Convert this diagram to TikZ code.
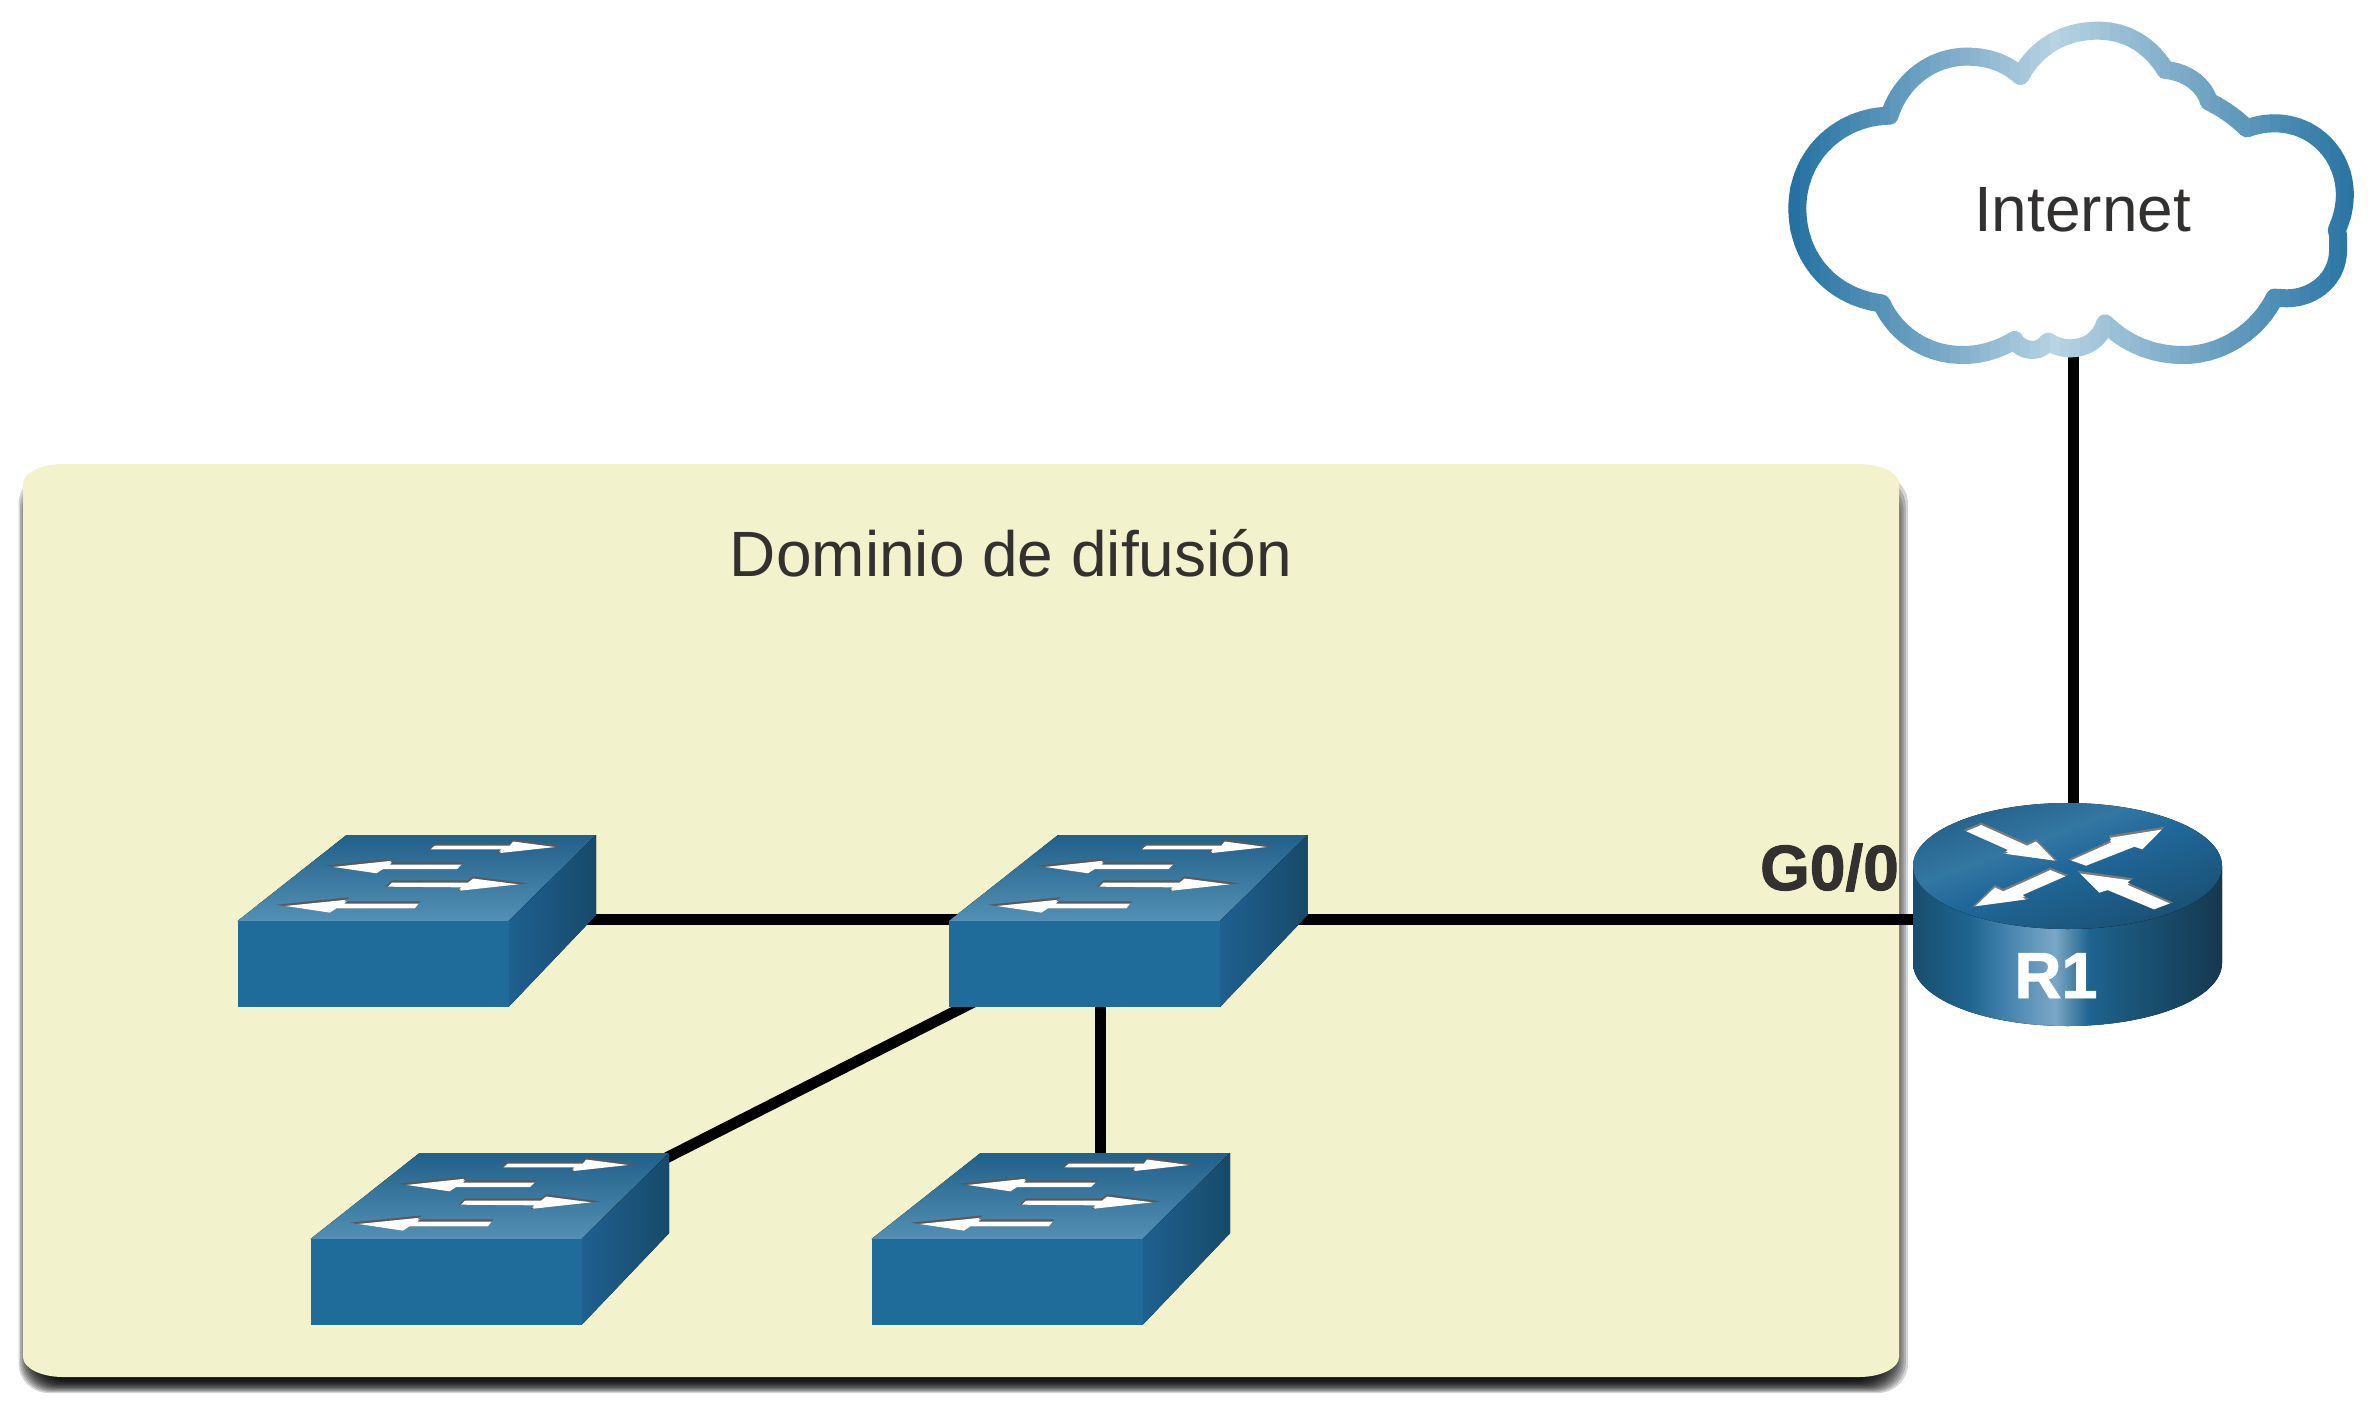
\documentclass[tikz,border=0pt]{standalone}
\usepackage{fontspec}
\setmainfont{Liberation Sans}
\newfontface\heavyface[FakeBold=1.5]{Liberation Sans Bold}
\definecolor{inktext}{HTML}{333030}
\definecolor{panelfill}{HTML}{F2F2CC}
\definecolor{cloudD}{HTML}{2371A1}
\definecolor{cloudL}{HTML}{B8D3E3}
\definecolor{swfront}{HTML}{1F6C9B}
\definecolor{swtopA}{HTML}{21608A}
\definecolor{swtopB}{HTML}{5490B5}
\definecolor{swsideA}{HTML}{1F6090}
\definecolor{swsideB}{HTML}{174A6A}
\definecolor{rsA}{HTML}{184E6E}
\definecolor{rsB}{HTML}{1E6490}
\definecolor{rsC}{HTML}{4080AB}
\definecolor{rsD}{HTML}{7BA7C7}
\definecolor{rsE}{HTML}{6A9AB9}
\definecolor{rsF}{HTML}{1A5578}
\definecolor{rsG}{HTML}{16384F}
\definecolor{rtA}{HTML}{25618A}
\definecolor{rtB}{HTML}{3377A3}
\definecolor{rtC}{HTML}{20689A}
\definecolor{rtD}{HTML}{1A4F72}
\pgfdeclarehorizontalshading{routerside}{100bp}{color(0bp)=(rsA);color(25bp)=(rsA);color(34bp)=(rsB);color(39.5bp)=(rsC);color(48bp)=(rsD);color(49bp)=(rsE);color(53.5bp)=(rsB);color(60bp)=(rsF);color(75bp)=(rsG);color(100bp)=(rsG)}
\pgfdeclareverticalshading{routertop}{100bp}{color(0bp)=(rtD);color(25bp)=(rtD);color(50bp)=(rtC);color(60bp)=(rtB);color(75bp)=(rtA);color(100bp)=(rtA)}
\tikzset{
  wire/.style={line width=11pt,black},
  device/.style={inner sep=0pt,minimum size=2pt},
  label/.style={inner sep=0pt,font=\fontsize{64}{64}\selectfont,text=inktext},
}
\newcommand\arrowglyph[3]{% grey, dy, polygon
  \fill[#1] #3 -- cycle;
  \begin{scope}
    \clip #3 -- cycle;
    \fill[white,yshift=-#2] #3 -- cycle;
  \end{scope}}
\newcommand\switchbox[2]{%
  \begin{scope}[shift={(#1,#2)}]
    \fill[top color=swtopA,bottom color=swtopB] (0,0) -- (109,-86) -- (358.7,-86) -- (271,0) -- cycle;
    \fill[left color=swsideA,right color=swsideB] (271,0) -- (358.7,-86) -- (358.7,-6) -- (271,86) -- cycle;
    \fill[swfront] (0,0) rectangle (271,86);
    \begin{scope}[shift={(-29.33,-111)},x=0.33333pt,y=-0.33333pt]
      \arrowglyph{black!65}{2.2}{(660,118) -- (680,100) -- (905,100) -- (915,88) -- (1068,108) -- (868,130) -- (880,118)}
      \arrowglyph{black!65}{2.2}{(350,167) -- (557,145) -- (545,157) -- (767,157) -- (747,177) -- (525,177) -- (505,190)}
      \arrowglyph{black!65}{2.2}{(532,230) -- (552,211) -- (780,211) -- (795,199) -- (958,220) -- (748,243) -- (760,232)}
      \arrowglyph{black!65}{2.2}{(205,284) -- (422,262) -- (408,274) -- (637,274) -- (620,295) -- (385,295) -- (365,308)}
    \end{scope}
  \end{scope}}
\def\cloudpath{(350,347) .. controls (375,250) and (450,170) .. (545,170) .. controls (600,170) and (645,190) .. (680,228) .. controls (720,140) and (790,92) .. (875,92) .. controls (950,92) and (1010,140) .. (1045,210) .. controls (1095,215) and (1140,250) .. (1155,305) .. controls (1190,325) and (1225,355) .. (1250,385) .. controls (1275,375) and (1295,370) .. (1320,370) .. controls (1420,370) and (1497,465) .. (1497,585) .. controls (1497,620) and (1490,655) .. (1477,690) .. controls (1482,710) and (1480,730) .. (1480,750) .. controls (1480,835) and (1420,895) .. (1350,895) -- (1320,893) .. controls (1280,990) and (1190,1065) .. (1090,1065) .. controls (1010,1065) and (945,1030) .. (893,970) .. controls (880,1020) and (845,1045) .. (805,1045) .. controls (785,1045) and (765,1037) .. (750,1025) .. controls (738,1042) and (725,1050) .. (710,1050) .. controls (692,1050) and (675,1040) .. (665,1020) .. controls (625,1050) and (580,1065) .. (535,1065) .. controls (440,1065) and (365,1000) .. (330,910) .. controls (200,890) and (118,770) .. (118,625) .. controls (118,470) and (220,350) .. (350,347) -- cycle}
\tikzset{cloudframe/.style={shift={(1750.5,0)},x=0.397pt,y=-0.33333pt}}
\begin{document}
\begin{tikzpicture}[x=1pt,y=-1pt]
\useasboundingbox (0,0) rectangle (2372,1410);
\fill[white] (0,0) rectangle (2372,1410);
% shadow of the panel
\foreach \i in {0,...,15}{
  \pgfmathsetmacro{\ls}{18.5+\i*1.6}
  \pgfmathsetmacro{\rs}{1908-\i*2.2}
  \pgfmathsetmacro{\ts}{474+\i*3}
  \pgfmathsetmacro{\bs}{1393-\i*1.1}
  \fill[black,opacity=0.17,rounded corners=30pt] (\ls,\ts) rectangle (\rs,\bs);
}
% panel
\fill[panelfill] (63,464) -- (1859,464) arc[start angle=90,end angle=0,x radius=40,y radius=-20] -- (1899,1357) arc[start angle=0,end angle=-90,x radius=40,y radius=-20] -- (63,1377) arc[start angle=270,end angle=180,x radius=40,y radius=-20] -- (23,484) arc[start angle=180,end angle=90,x radius=40,y radius=-20] -- cycle;
\node[label,anchor=base] (dom) at (1011,576.5) {Dominio de difusión};
% device anchors
\node[device] (sw1) at (400,919) {};
\node[device] (sw2) at (1100,919) {};
\node[device] (sw3) at (460,1280) {};
\node[device] (sw4) at (1020,1280) {};
\node[device] (R1) at (2067.5,919) {};
\coordinate (cloudfoot) at (2073.5,340);
\coordinate (routerhead) at (2073.5,850);
\coordinate (diagA) at (1080,948);
\coordinate (diagB) at (600,1191.5);
% connectors
\draw[wire] (sw1) -- (sw2);
\draw[wire] (sw2) -- (R1);
\draw[wire] (sw2) -- (sw2 |- sw4);
\draw[wire] (diagA) -- (diagB);
\draw[wire] (cloudfoot) -- (routerhead);
% switches
\switchbox{237.5}{921}
\switchbox{949}{921}
\switchbox{310.5}{1239}
\switchbox{871.5}{1239}
% router
\fill[shading=routerside] (1913,866) -- (1913,963) arc[start angle=180,end angle=360,x radius=154.5,y radius=-63] -- (2222,866) -- cycle;
\fill[shading=routertop,shading angle=20] (2067.5,866) ellipse[x radius=154.5,y radius=63];
\begin{scope}[shift={(1700,770)},x=0.3575pt,y=-0.33333pt]
  \arrowglyph{black!52}{2.4}{(737,180) -- (787,158) -- (915,220) -- (940,207) -- (1000,273) -- (845,250) -- (862,240)}
  \arrowglyph{black!52}{2.4}{(1030,268) -- (1150,210) -- (1143,197) -- (1300,170) -- (1237,238) -- (1215,230) -- (1080,287)}
  \arrowglyph{black!52}{2.4}{(1030,315) -- (980,293) -- (848,357) -- (825,345) -- (762,410) -- (920,387) -- (902,375)}
  \arrowglyph{black!52}{2.4}{(1322,397) -- (1270,418) -- (1140,360) -- (1117,368) -- (1055,302) -- (1212,325) -- (1195,337)}
\end{scope}
\node[inner sep=0pt,anchor=base,font=\heavyface\fontsize{65}{65}\selectfont,text=white] (R1label) at (2056,998) {R1};
\node[inner sep=0pt,anchor=base east,font=\heavyface\fontsize{64}{64}\selectfont,text=inktext] (port) at (1899,890) {G0/0};
% cloud
\fill[white,cloudframe] \cloudpath;
\foreach \xx in {1780,1790,...,2370}{
  \pgfmathsetmacro{\pc}{\xx<2050 ? max(0,100*(1-(2050-\xx)/264)) : max(0,100*(1-(\xx-2050)/310))}
  \begin{scope}
    \clip (\xx,-5) rectangle (\xx+11,400);
    \draw[cloudL!\pc!cloudD,line width=18pt,line join=round,cloudframe] \cloudpath;
  \end{scope}
}
\node[label,anchor=base] (inet) at (2082.5,231) {Internet};
\end{tikzpicture}
\end{document}
